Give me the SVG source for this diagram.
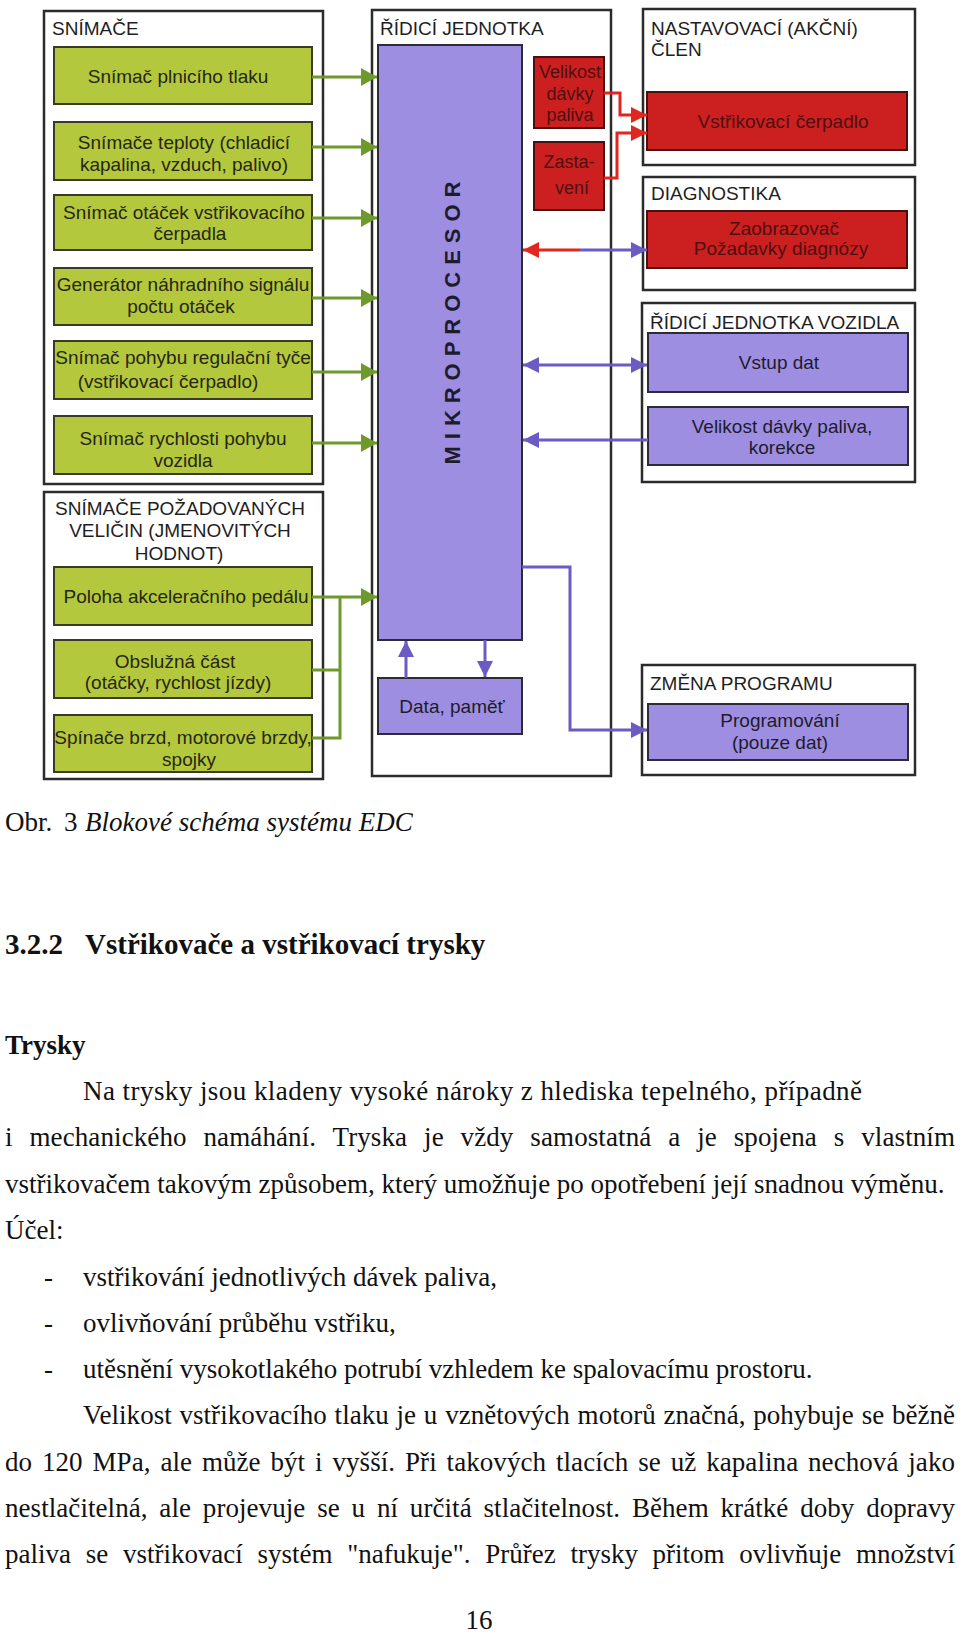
<svg xmlns="http://www.w3.org/2000/svg" width="960" height="1632" viewBox="0 0 960 1632">
<style>
  .outer{fill:#ffffff;stroke:#2b2b2b;stroke-width:2.5}
  .green{fill:#b4c83e;stroke:#3a3a26;stroke-width:2}
  .violet{fill:#9d8ee2;stroke:#2d2a3a;stroke-width:2}
  .red{fill:#cc1f1f;stroke:#4a1010;stroke-width:2}
  .title{font-family:"Liberation Sans",Arial,sans-serif;font-size:19px;fill:#1e1e1e}
  .gt{font-family:"Liberation Sans",Arial,sans-serif;font-size:19px;fill:#262614;text-anchor:middle}
  .vt{font-family:"Liberation Sans",Arial,sans-serif;font-size:19px;fill:#1e1c2c;text-anchor:middle}
  .rt{font-family:"Liberation Sans",Arial,sans-serif;font-size:19px;fill:#4e1010;text-anchor:middle}
  .rts{font-family:"Liberation Sans",Arial,sans-serif;font-size:18px;fill:#4e1010;text-anchor:middle}
  .gline{fill:none;stroke:#6e9a2c;stroke-width:3}
  .rline{fill:none;stroke:#e0261e;stroke-width:3}
  .pline{fill:none;stroke:#6b5bc2;stroke-width:3}
  .body{font-family:"Liberation Serif","Times New Roman",serif;font-size:27px;fill:#111}
  .bold{font-weight:bold}
  .head{font-size:29px}
</style>
<defs>
  <marker id="ag" markerUnits="userSpaceOnUse" markerWidth="16" markerHeight="18" refX="16" refY="9" orient="auto-start-reverse">
    <path d="M0,0 L16,9 L0,18 z" fill="#6e9a2c"/>
  </marker>
  <marker id="ar" markerUnits="userSpaceOnUse" markerWidth="16" markerHeight="16" refX="16" refY="8" orient="auto-start-reverse">
    <path d="M0,0 L16,8 L0,16 z" fill="#e0261e"/>
  </marker>
  <marker id="ap" markerUnits="userSpaceOnUse" markerWidth="16" markerHeight="16" refX="16" refY="8" orient="auto-start-reverse">
    <path d="M0,0 L16,8 L0,16 z" fill="#6b5bc2"/>
  </marker>
</defs>
<rect x="0" y="0" width="960" height="1632" fill="#ffffff"/>

<!-- Left column: sensors -->
<g id="snimace">
  <rect class="outer" x="44" y="11" width="279" height="473"/>
  <text class="title" x="52" y="35">SNÍMAČE</text>
</g>
<g id="s1">
  <rect class="green" x="54" y="47" width="258" height="57"/>
  <text class="gt" x="178" y="83">Snímač plnicího tlaku</text>
</g>
<g id="s2">
  <rect class="green" x="54" y="122" width="258" height="58"/>
  <text class="gt" x="184" y="149">Snímače teploty (chladicí</text>
  <text class="gt" x="184" y="171">kapalina, vzduch, palivo)</text>
</g>
<g id="s3">
  <rect class="green" x="54" y="195" width="258" height="55"/>
  <text class="gt" x="184" y="219">Snímač otáček vstřikovacího</text>
  <text class="gt" x="190" y="240">čerpadla</text>
</g>
<g id="s4">
  <rect class="green" x="54" y="268" width="258" height="57"/>
  <text class="gt" x="183" y="291">Generátor náhradního signálu</text>
  <text class="gt" x="181" y="313">počtu otáček</text>
</g>
<g id="s5">
  <rect class="green" x="54" y="341" width="258" height="58"/>
  <text class="gt" x="183" y="364">Snímač pohybu regulační tyče</text>
  <text class="gt" x="168" y="388">(vstřikovací čerpadlo)</text>
</g>
<g id="s6">
  <rect class="green" x="54" y="416" width="258" height="58"/>
  <text class="gt" x="183" y="445">Snímač rychlosti pohybu</text>
  <text class="gt" x="183" y="467">vozidla</text>
</g>

<g id="snimace-pozadovanych">
  <rect class="outer" x="44" y="492" width="279" height="287"/>
  <text class="title" x="180" y="515" text-anchor="middle">SNÍMAČE POŽADOVANÝCH</text>
  <text class="title" x="180" y="537" text-anchor="middle">VELIČIN (JMENOVITÝCH</text>
  <text class="title" x="179" y="560" text-anchor="middle">HODNOT)</text>
</g>
<g id="s7">
  <rect class="green" x="54" y="567" width="258" height="58"/>
  <text class="gt" x="186" y="603">Poloha akceleračního pedálu</text>
</g>
<g id="s8">
  <rect class="green" x="54" y="640" width="258" height="58"/>
  <text class="gt" x="175" y="668">Obslužná část</text>
  <text class="gt" x="178" y="689">(otáčky, rychlost jízdy)</text>
</g>
<g id="s9">
  <rect class="green" x="54" y="715" width="258" height="57"/>
  <text class="gt" x="183" y="744">Spínače brzd, motorové brzdy,</text>
  <text class="gt" x="189" y="766">spojky</text>
</g>

<!-- Control unit -->
<g id="ridici-jednotka">
  <rect class="outer" x="372" y="10" width="239" height="766"/>
  <text class="title" x="380" y="35">ŘÍDICÍ JEDNOTKA</text>
</g>
<g id="mikroprocesor">
  <rect class="violet" x="378" y="45" width="144" height="595"/>
  <text transform="translate(460,323) rotate(-90)" text-anchor="middle" font-family="Liberation Sans, Arial, sans-serif" font-weight="bold" font-size="22" fill="#1e1c2c" textLength="283" lengthAdjust="spacing">MIKROPROCESOR</text>
</g>
<g id="data-pamet">
  <rect class="violet" x="378" y="678" width="144" height="56"/>
  <text class="vt" x="452" y="713">Data, paměť</text>
</g>
<g id="velikost-davky">
  <rect class="red" x="534" y="57" width="70" height="71"/>
  <text class="rts" x="570" y="78">Velikost</text>
  <text class="rts" x="570" y="100">dávky</text>
  <text class="rts" x="570" y="121">paliva</text>
</g>
<g id="zastaveni">
  <rect class="red" x="534" y="142" width="70" height="68"/>
  <text class="rts" x="569" y="168">Zasta-</text>
  <text class="rts" x="572" y="194">vení</text>
</g>

<!-- Right column -->
<g id="nastavovaci-clen">
  <rect class="outer" x="643" y="9" width="272" height="156"/>
  <text class="title" x="651" y="35">NASTAVOVACÍ (AKČNÍ)</text>
  <text class="title" x="651" y="56">ČLEN</text>
</g>
<g id="vstrikovaci-cerpadlo">
  <rect class="red" x="647" y="92" width="260" height="58"/>
  <text class="rt" x="783" y="128">Vstřikovací čerpadlo</text>
</g>
<g id="diagnostika">
  <rect class="outer" x="643" y="177" width="272" height="113"/>
  <text class="title" x="651" y="200">DIAGNOSTIKA</text>
</g>
<g id="zaobrazovac">
  <rect class="red" x="647" y="211" width="260" height="57"/>
  <text class="rt" x="784" y="235">Zaobrazovač</text>
  <text class="rt" x="781" y="255">Požadavky diagnózy</text>
</g>
<g id="ridici-jednotka-vozidla">
  <rect class="outer" x="642" y="303" width="273" height="179"/>
  <text class="title" x="650" y="329">ŘÍDICÍ JEDNOTKA VOZIDLA</text>
</g>
<g id="vstup-dat">
  <rect class="violet" x="648" y="333" width="260" height="59"/>
  <text class="vt" x="779" y="369">Vstup dat</text>
</g>
<g id="velikost-korekce">
  <rect class="violet" x="648" y="407" width="260" height="58"/>
  <text class="vt" x="782" y="433">Velikost dávky paliva,</text>
  <text class="vt" x="782" y="454">korekce</text>
</g>
<g id="zmena-programu">
  <rect class="outer" x="642" y="665" width="273" height="110"/>
  <text class="title" x="650" y="690">ZMĚNA PROGRAMU</text>
</g>
<g id="programovani">
  <rect class="violet" x="648" y="704" width="260" height="56"/>
  <text class="vt" x="780" y="727">Programování</text>
  <text class="vt" x="780" y="749">(pouze dat)</text>
</g>

<!-- Connectors -->
<g id="connectors">
  <path class="gline" d="M312,77 H377" marker-end="url(#ag)"/>
  <path class="gline" d="M312,147 H377" marker-end="url(#ag)"/>
  <path class="gline" d="M312,218 H377" marker-end="url(#ag)"/>
  <path class="gline" d="M312,298 H377" marker-end="url(#ag)"/>
  <path class="gline" d="M312,372 H377" marker-end="url(#ag)"/>
  <path class="gline" d="M312,443 H377" marker-end="url(#ag)"/>
  <path class="gline" d="M312,597 H377" marker-end="url(#ag)"/>
  <path class="gline" d="M312,670 H340"/>
  <path class="gline" d="M312,738 H340 V597"/>

  <path class="rline" d="M604,93 H620 V115 H647" marker-end="url(#ar)"/>
  <path class="rline" d="M604,178 H617 V133 H647" marker-end="url(#ar)"/>

  <path class="rline" d="M580,250 H523" marker-end="url(#ar)"/>
  <path class="pline" d="M580,250 H647" marker-end="url(#ap)"/>

  <path class="pline" d="M523,365 H647" marker-start="url(#ap)" marker-end="url(#ap)"/>
  <path class="pline" d="M648,440 H523" marker-end="url(#ap)"/>
  <path class="pline" d="M522,567 H570 V730 H647" marker-end="url(#ap)"/>
  <path class="pline" d="M406,678 V641" marker-end="url(#ap)"/>
  <path class="pline" d="M485,640 V677" marker-end="url(#ap)"/>
</g>

<!-- Page text -->
<g id="page-text">
  <text class="body" y="831"><tspan x="5">Obr.</tspan><tspan x="64">3</tspan><tspan x="85" font-style="italic">Blokové schéma systému EDC</tspan></text>
  <text class="body bold head" y="954"><tspan x="5">3.2.2</tspan><tspan x="85">Vstřikovače a vstřikovací trysky</tspan></text>
  <text class="body bold" x="5" y="1054">Trysky</text>
  <text class="body" x="83" y="1100" textLength="779" lengthAdjust="spacing">Na trysky jsou kladeny vysoké nároky z hlediska tepelného, případně</text>
  <text class="body" x="5" y="1146" word-spacing="10" textLength="950" lengthAdjust="spacing">i mechanického namáhání. Tryska je vždy samostatná a je spojena s vlastním</text>
  <text class="body" x="5" y="1193">vstřikovačem takovým způsobem, který umožňuje po opotřebení její snadnou výměnu.</text>
  <text class="body" x="5" y="1239">Účel:</text>
  <text class="body" x="44" y="1286">-</text>
  <text class="body" x="83" y="1286">vstřikování jednotlivých dávek paliva,</text>
  <text class="body" x="44" y="1332">-</text>
  <text class="body" x="83" y="1332">ovlivňování průběhu vstřiku,</text>
  <text class="body" x="44" y="1378">-</text>
  <text class="body" x="83" y="1378">utěsnění vysokotlakého potrubí vzhledem ke spalovacímu prostoru.</text>
  <text class="body" x="83" y="1424" word-spacing="1" textLength="872" lengthAdjust="spacing">Velikost vstřikovacího tlaku je u vznětových motorů značná, pohybuje se běžně</text>
  <text class="body" x="5" y="1471" word-spacing="3" textLength="950" lengthAdjust="spacing">do 120 MPa, ale může být i vyšší. Při takových tlacích se už kapalina nechová jako</text>
  <text class="body" x="5" y="1517" word-spacing="5" textLength="950" lengthAdjust="spacing">nestlačitelná, ale projevuje se u ní určitá stlačitelnost. Během krátké doby dopravy</text>
  <text class="body" x="5" y="1563" word-spacing="8" textLength="950" lengthAdjust="spacing">paliva se vstřikovací systém "nafukuje". Průřez trysky přitom ovlivňuje množství</text>
  <text class="body" x="479" y="1629" text-anchor="middle">16</text>
</g>
</svg>
